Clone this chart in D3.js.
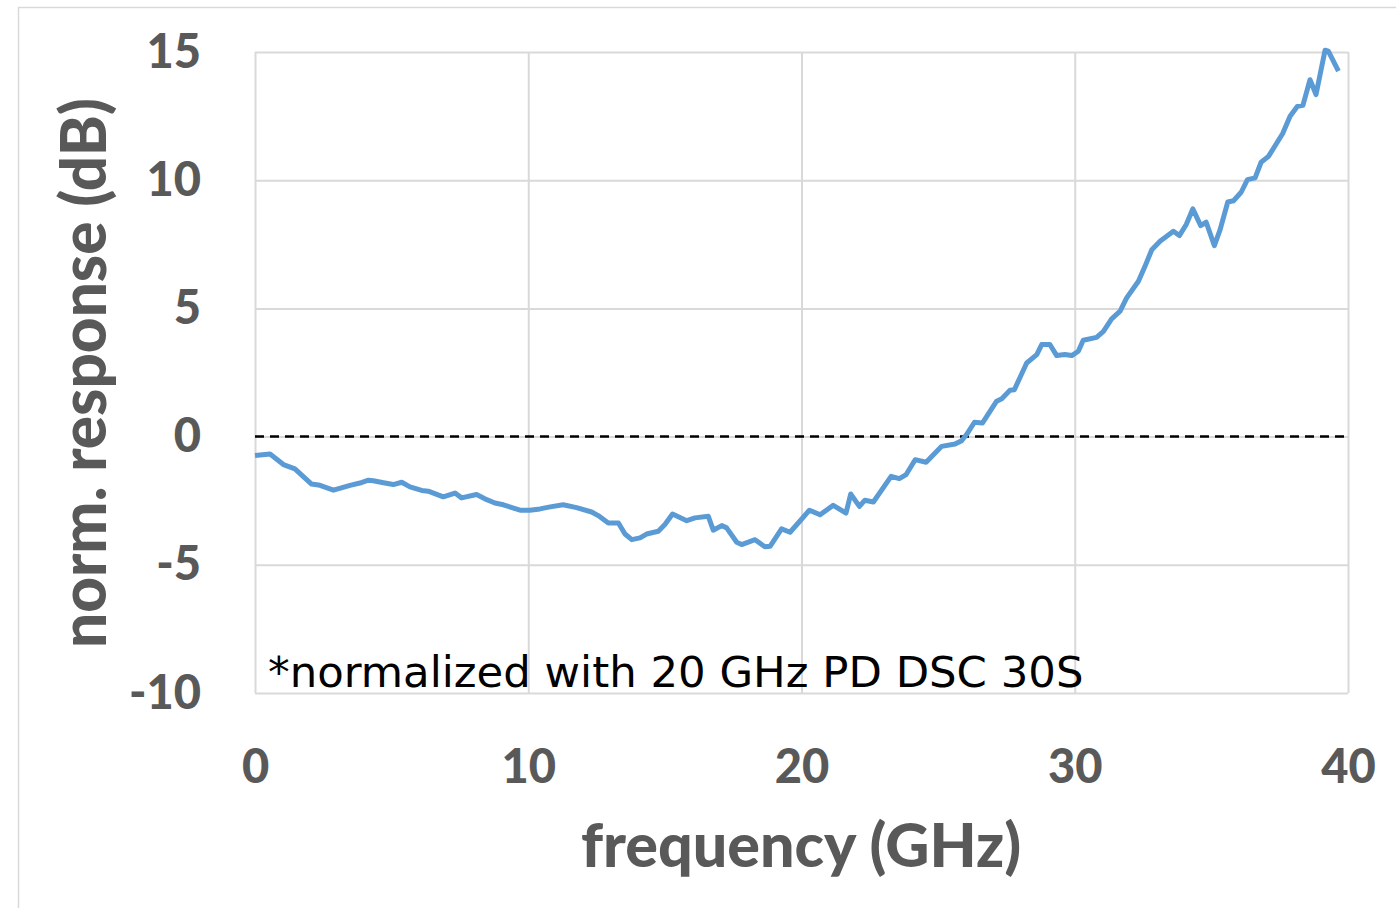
<!DOCTYPE html>
<html>
<head>
<meta charset="utf-8">
<script src="https://cdn.jsdelivr.net/npm/d3@7"></script>
<style>
  body { margin: 0; background: #fff; }
  svg { display: block; }
</style>
</head>
<body>
<div id="chart"></div>
<script>
// values
var freqGHz = [0, 0.55, 1.04, 1.46, 2.07, 2.38, 2.87, 3.48, 3.84, 4.15, 4.33, 4.7, 5.06, 5.37, 5.67, 6.1, 6.34, 6.89, 7.32, 7.56, 8.11, 8.48, 8.78, 9.09, 9.7, 10.06,
    10.43, 10.8, 11.28, 11.77, 12.32, 12.56, 12.93, 13.3, 13.54, 13.79, 14.09, 14.33, 14.76, 15.0, 15.28, 15.8, 16.1, 16.59, 16.77, 17.08, 17.26, 17.63, 17.81, 18.3, 18.66, 18.85, 19.27, 19.58, 19.88, 20.29,
    20.68, 21.16, 21.63, 21.8, 22.12, 22.32, 22.63, 23.28, 23.58, 23.83, 24.16, 24.56, 25.13, 25.62, 25.86, 26.04, 26.33, 26.62, 27.14, 27.33, 27.63, 27.79, 28.24, 28.61, 28.79, 29.09, 29.34, 29.64, 29.89, 30.13, 30.31,
    30.8, 31.05, 31.35, 31.66, 31.9, 32.33, 32.57, 32.82, 33.12, 33.61, 33.83, 34.08, 34.32, 34.61, 34.81, 35.11, 35.32, 35.6, 35.81, 36.09, 36.32, 36.6, 36.82, 37.09, 37.61, 37.88, 38.15, 38.35, 38.61, 38.83, 39.16, 39.28, 39.65];
var responseDB = [-0.74, -0.68, -1.09, -1.26, -1.85, -1.9, -2.09, -1.9, -1.81, -1.7, -1.72, -1.8, -1.87, -1.78, -1.96, -2.1, -2.13, -2.35, -2.2, -2.39, -2.26, -2.46, -2.59, -2.66, -2.87, -2.87,
    -2.82, -2.74, -2.66, -2.77, -2.94, -3.08, -3.37, -3.37, -3.8, -4.02, -3.95, -3.8, -3.69, -3.43, -3.02, -3.28, -3.17, -3.11, -3.65, -3.47, -3.56, -4.12, -4.21, -4.02, -4.3, -4.28, -3.6, -3.73, -3.37, -2.87,
    -3.05, -2.68, -2.98, -2.24, -2.72, -2.48, -2.55, -1.55, -1.64, -1.48, -0.9, -1.0, -0.38, -0.29, -0.16, 0.08, 0.56, 0.53, 1.38, 1.48, 1.81, 1.83, 2.87, 3.2, 3.59, 3.59, 3.16, 3.2, 3.16, 3.33, 3.76,
    3.87, 4.1, 4.59, 4.89, 5.41, 6.06, 6.64, 7.29, 7.62, 8.01, 7.84, 8.27, 8.88, 8.23, 8.36, 7.45, 8.07, 9.15, 9.2, 9.53, 10.02, 10.09, 10.7, 10.93, 11.82, 12.49, 12.88, 12.92, 13.92, 13.34, 15.07, 15.03, 14.25];
var xTicks = [0, 10, 20, 30, 40];
var yTicks = [-10, -5, 0, 5, 10, 15];
var xTitle = "frequency (GHz)";
var yTitle = "norm. response (dB)";
var noteText = "*normalized with 20 GHz PD DSC 30S";

var W = 1396, H = 908;
var plot = { left: 255, top: 52, right: 1348, bottom: 693 };

var svg = d3.select("#chart").append("svg")
    .attr("width", W)
    .attr("height", H);

// outer chart frame
svg.append("rect")
    .attr("x", 18.5).attr("y", 7.5)
    .attr("width", W).attr("height", H)
    .attr("fill", "none")
    .attr("stroke", "#d9d9d9")
    .attr("stroke-width", 1.5);

var x = d3.scaleLinear().domain([0, 40]).range([plot.left, plot.right]);
var y = d3.scaleLinear().domain([-10, 15]).range([plot.bottom, plot.top]);

var labelFont = "Lato, 'Open Sans', sans-serif";
var labelColor = "#595959";

// gridlines
svg.append("g")
    .call(d3.axisLeft(y).tickValues(yTicks).tickSize(-(plot.right - plot.left)).tickFormat(""))
    .attr("transform", "translate(" + plot.left + ",0)")
    .call(g => g.select(".domain").remove())
    .call(g => g.selectAll("line").attr("stroke", "#d9d9d9").attr("stroke-width", 2));

svg.append("g")
    .call(d3.axisBottom(x).tickValues(xTicks).tickSize(-(plot.bottom - plot.top)).tickFormat(""))
    .attr("transform", "translate(0," + plot.bottom + ")")
    .call(g => g.select(".domain").remove())
    .call(g => g.selectAll("line").attr("stroke", "#d9d9d9").attr("stroke-width", 2));

// tick labels (plain hyphen for negatives, like the original)
svg.append("g")
    .attr("transform", "translate(" + plot.left + ",0)")
    .call(d3.axisLeft(y).tickValues(yTicks).tickSize(0).tickPadding(54).tickFormat(d => String(d)))
    .call(g => g.select(".domain").remove())
    .call(g => g.selectAll("text")
        .attr("fill", labelColor)
        .style("font-family", labelFont)
        .style("font-weight", "900")
        .style("font-size", "47px"));

svg.append("g")
    .attr("transform", "translate(0," + plot.bottom + ")")
    .call(d3.axisBottom(x).tickValues(xTicks).tickSize(0).tickPadding(74).tickFormat(d => String(d)))
    .call(g => g.select(".domain").remove())
    .call(g => g.selectAll("text")
        .attr("dy", "0.35em")
        .attr("fill", labelColor)
        .style("font-family", labelFont)
        .style("font-weight", "900")
        .style("font-size", "47px"));

// zero reference line
svg.append("line")
    .attr("x1", x(0)).attr("x2", x(40))
    .attr("y1", y(0)).attr("y2", y(0))
    .attr("stroke", "#000")
    .attr("stroke-width", 2.5)
    .attr("stroke-dasharray", "9,6");

// data line
var data = freqGHz.map((f, i) => ({ f: f, v: responseDB[i] }));
var line = d3.line().x(d => x(d.f)).y(d => y(d.v));
svg.append("path")
    .datum(data)
    .attr("d", line)
    .attr("fill", "none")
    .attr("stroke", "#5b9bd5")
    .attr("stroke-width", 5)
    .attr("stroke-linejoin", "round");

// note
svg.append("text")
    .attr("x", 268)
    .attr("y", 687)
    .attr("fill", "#000")
    .style("font-family", "'DejaVu Sans', Verdana, sans-serif")
    .style("font-size", "43.4px")
    .text(noteText);

// axis titles
svg.append("text")
    .attr("x", 801)
    .attr("y", 867)
    .attr("text-anchor", "middle")
    .attr("fill", labelColor)
    .style("font-family", labelFont)
    .style("font-weight", "900")
    .style("font-size", "61px")
    .text(xTitle);

svg.append("text")
    .attr("transform", "translate(106,373) rotate(-90)")
    .attr("text-anchor", "middle")
    .attr("fill", labelColor)
    .style("font-family", labelFont)
    .style("font-weight", "900")
    .style("font-size", "62px")
    .text(yTitle);
</script>
</body>
</html>
